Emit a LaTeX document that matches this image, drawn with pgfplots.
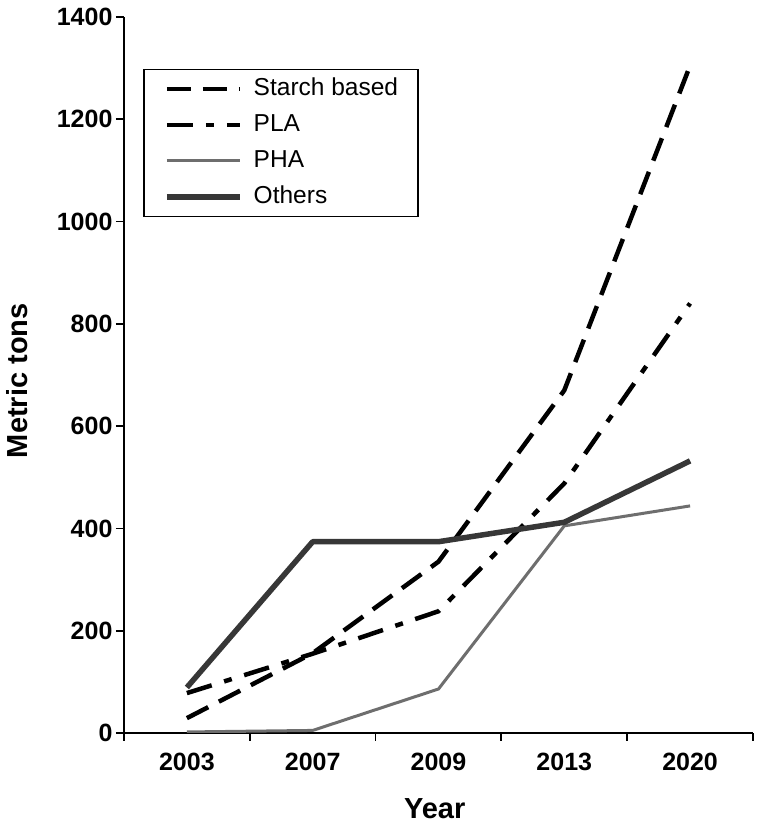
\documentclass[border=0pt]{standalone}
\usepackage{fontspec}
\setmainfont{Liberation Sans}
\usepackage{pgfplots}
\pgfplotsset{compat=1.18}
\begin{document}
\begin{tikzpicture}
\begin{axis}[
  scale only axis,
  width=629bp, height=716bp,
  xmin=-0.5, xmax=4.5, ymin=0, ymax=1400,
  axis x line=bottom, axis y line=left,
  axis line style={line width=1.8bp, -},
  xtick={-0.5,0.5,1.5,2.5,3.5,4.5},
  x tick label as interval,
  xticklabels={2003,2007,2009,2013,2020},
  ytick={0,200,...,1400},
  minor tick num=0,
  tick align=outside,
  major tick length=8bp,
  tick style={line width=1.8bp, black},
  ticklabel style={font=\fontsize{25bp}{29bp}\selectfont\bfseries},
  xticklabel style={yshift=-9bp},
  /pgf/number format/assume math mode=true,
  /pgf/number format/1000 sep={},
  xlabel={Year}, ylabel={Metric tons},
  label style={font=\fontsize{29bp}{33bp}\selectfont\bfseries},
  xlabel style={at={(axis description cs:0.494,-0.106)}, anchor=center},
  ylabel style={at={(axis description cs:-0.170,0.492)}, anchor=center},
  legend style={at={(axis description cs:0.031,0.928)}, anchor=north west,
    draw=black, line width=1.5bp, font=\fontsize{24.5bp}{28bp}\selectfont,
    inner xsep=20bp, inner ysep=8bp, row sep=13bp, column sep=11bp,
    nodes={inner sep=0pt, text height=18bp, text depth=5bp}},
  legend cell align=left,
  legend image code/.code={\draw[#1] (0bp,0bp) -- (73bp,0bp);},
]
\addplot[black, line width=4.5bp, dash pattern=on 24bp off 12bp] coordinates {(0,29) (1,156) (2,335) (3,670) (4,1305)};
\addlegendentry{Starch based}
\addplot[black, line width=4.5bp, dash pattern=on 26bp off 13bp on 8bp off 13bp] coordinates {(0,78) (1,155) (2,238) (3,488) (4,840)};
\addlegendentry{PLA}
\addplot[color={rgb,255:red,110;green,110;blue,110}, line width=3bp] coordinates {(0,2) (1,5) (2,86) (3,405) (4,444)};
\addlegendentry{PHA}
\addplot[color={rgb,255:red,55;green,55;blue,55}, line width=5.5bp, line join=round] coordinates {(0,89) (1,374) (2,374) (3,412) (4,532)};
\addlegendentry{Others}
\coordinate (bl) at (rel axis cs:-0.1971,-0.1299);
\coordinate (tr) at (rel axis cs:1.0048,1.0237);
\end{axis}
\pgfresetboundingbox
\path[use as bounding box] (bl) rectangle (tr);
\end{tikzpicture}
\end{document}
